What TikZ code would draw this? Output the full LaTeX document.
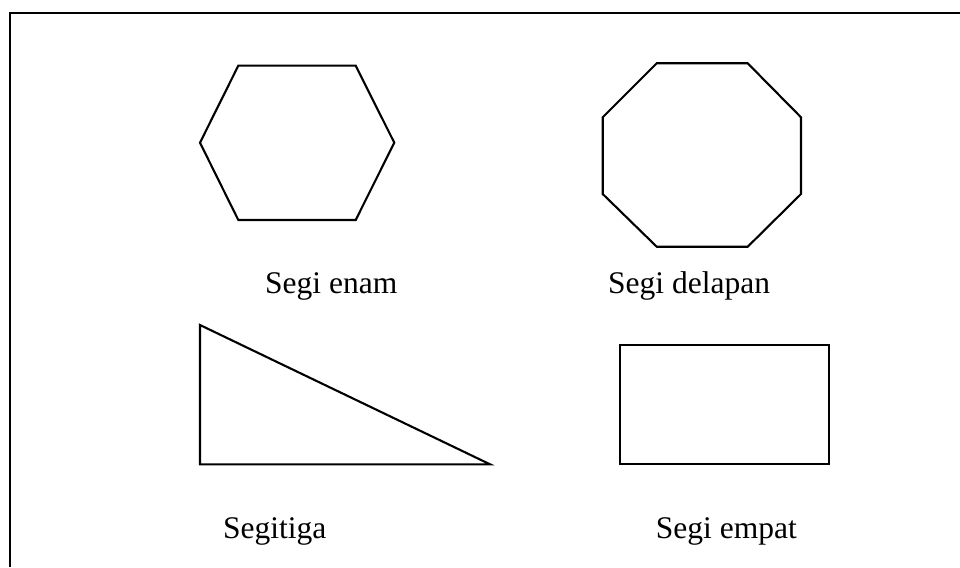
\documentclass[tikz,border=0pt]{standalone}
\usepackage{fontspec}
\setmainfont{Liberation Serif}
\begin{document}
\begin{tikzpicture}[x=1pt,y=-1pt,
  figline/.style={draw=black,line width=2.1pt,line join=miter},
  frameline/.style={draw=black,line width=2.6pt},
  lbl/.style={anchor=base west,inner sep=0pt,font=\fontsize{31.5}{36}\selectfont}]
\useasboundingbox (0,0) rectangle (960,567);
% frame
\coordinate (fbl) at (10,567);
\coordinate (ftl) at (10,13);
\coordinate (ftr) at (960,13);
\draw[frameline] (fbl) -- (ftl) -- (ftr);
% hexagon
\draw[figline] (238.3,65.7) -- (355.7,65.7) -- (394.3,142.7) -- (355.7,220) -- (238.3,220) -- (200,142.7) -- cycle;
% octagon
\draw[figline] (656.7,63.3) -- (747.7,63.3) -- (801,117.3) -- (801,194) -- (747.7,246.7) -- (656.7,246.7) -- (602.7,194) -- (602.7,117.3) -- cycle;
% triangle
\draw[figline] (200,325) -- (200,464.3) -- (490,464.3) -- cycle;
% rectangle
\draw[figline] (620,345) rectangle (829,464.3);
% labels
\node[lbl] (t1) at (265,293) {Segi enam};
\node[lbl] (t2) at (608,293) {Segi delapan};
\node[lbl] (t3) at (223,538) {Segitiga};
\node[lbl] (t4) at (655.7,538.3) {Segi empat};
\end{tikzpicture}
\end{document}
